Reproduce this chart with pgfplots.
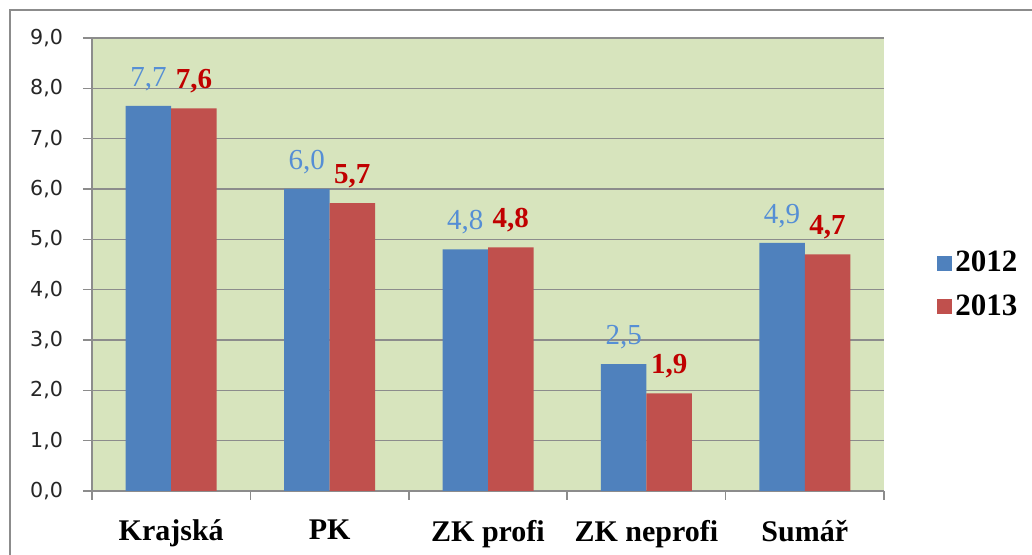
\documentclass[border=0pt]{standalone}
\usepackage{pgfplots}
\pgfplotsset{compat=1.18}
\usepackage{fontspec}
\setmainfont{Liberation Serif}
\newfontfamily\tickfont{DejaVu Sans}
\definecolor{barblue}{HTML}{4F81BD}
\definecolor{barred}{HTML}{C0504D}
\definecolor{lblblue}{HTML}{558ED5}
\definecolor{lblred}{HTML}{C00000}
\definecolor{plotbg}{HTML}{D7E4BD}
\definecolor{axisgray}{HTML}{8C8C8C}
\begin{document}
\begin{tikzpicture}
\useasboundingbox (0,0) rectangle (516pt,277.5pt);
% chart frame, cut by the page edge
\draw[axisgray, line width=1pt] (5pt,-20pt) |- (540pt,272.5pt);
\begin{axis}[
    at={(46pt,32pt)}, anchor=south west,
    scale only axis, width=396pt, height=226.5pt,
    ybar=0pt, bar width=22.75pt,
    xmin=-0.5, xmax=4.5, ymin=0, ymax=9,
    axis background/.style={fill=plotbg},
    axis x line*=bottom, axis y line*=left,
    axis line style={-, axisgray, line width=0.75pt},
    ymajorgrids, grid style={axisgray, line width=0.75pt},
    ytick={0,1,...,9},
    yticklabel style={font=\tickfont\fontsize{10.3}{12}\selectfont, color=black!85, xshift=-6.5pt},
    /pgf/number format/.cd, fixed, fixed zerofill, precision=1, use comma, assume math mode=true,
    /pgfplots/.cd,
    xtick={-0.5,0.5,...,4.5},
    x tick label as interval,
    xticklabels={Krajská, PK, ZK profi, ZK neprofi, Sumář},
    xticklabel style={font=\bfseries\fontsize{15}{18}\selectfont, yshift=-6.5pt},
    tick align=outside, major tick length=4.5pt,
    tick style={axisgray, line width=0.75pt},
    point meta=explicit symbolic,
    nodes near coords,
    legend style={draw=none, fill=none, at={(1.067,0.455)}, anchor=west,
        font=\bfseries\fontsize{15.5}{18}\selectfont, row sep=7pt,
        inner sep=0pt, nodes={inner sep=1.5pt}},
    legend cell align=left,
]
\addplot[fill=barblue, draw=none,
    legend image code/.code={\fill[barblue] (0pt,-3.75pt) rectangle (7.5pt,3.75pt);},
    every node near coord/.append style={font=\fontsize{14.5}{17}\selectfont, color=lblblue, yshift=4pt}]
    table[x=x, y=y, meta=lab] {
x y lab
0 7.65 7,7
1 6.00 6,0
2 4.80 4,8
3 2.52 2,5
4 4.93 4,9
};
\addlegendentry{2012}
\addplot[fill=barred, draw=none,
    legend image code/.code={\fill[barred] (0pt,-3.75pt) rectangle (7.5pt,3.75pt);},
    every node near coord/.append style={font=\bfseries\fontsize{14.5}{17}\selectfont, color=lblred, yshift=4pt}]
    table[x=x, y=y, meta=lab] {
x y lab
0 7.60 7,6
1 5.72 5,7
2 4.84 4,8
3 1.94 1,9
4 4.70 4,7
};
\addlegendentry{2013}
\end{axis}
\end{tikzpicture}
\end{document}
